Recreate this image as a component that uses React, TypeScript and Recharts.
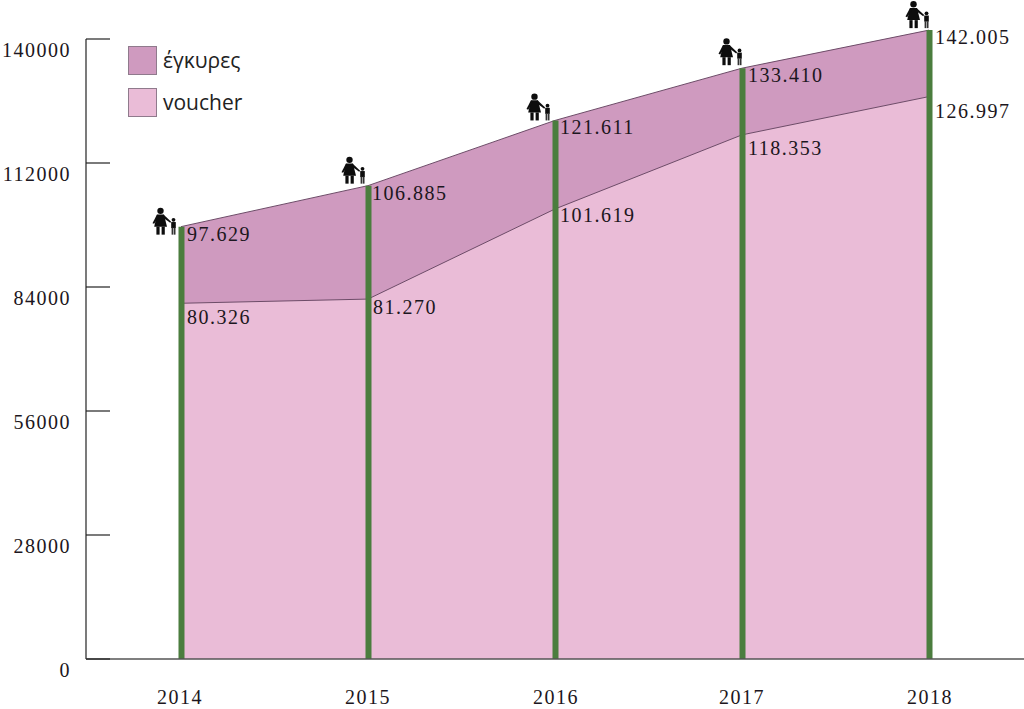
import React from 'react';
import { ComposedChart, Area, Bar, Line, XAxis, YAxis, ReferenceLine, Legend } from 'recharts';

const years = [2014, 2015, 2016, 2017, 2018];
const egkyres = [97629, 106885, 121611, 133410, 142005];
const voucher = [80326, 81270, 101619, 118353, 126997];
const yTicks = [0, 28000, 56000, 84000, 112000, 140000];

const data = years.map((year, i) => ({ year, egkyres: egkyres[i], voucher: voucher[i] }));

const DARK = '#cf9abf';
const LIGHT = '#eabcd7';
const GREEN = '#4b7d3e';
const INK = '#1c1620';
const SERIF = '"Liberation Serif", serif';
const SANS = '"Open Sans", "Noto Sans", sans-serif';
const X_MIN = 2013.492;
const X_MAX = 2018.508;

const upperLabelOffset = [
  [6, 8], [4, 8], [5, 8], [6, 8], [6, 8],
];
const lowerLabelOffset = [
  [6, 15], [5, 9], [5, 7], [6, 14], [6, 15],
];
const iconOffset = [
  [-28, -19], [-26, -29], [-28, -27], [-23, -30], [-23, -29],
];
const xLabelShift = [-1, 0, 1, 0, 1];

const fmt = (v: number) => {
  const s = String(v);
  return s.slice(0, -3) + '.' + s.slice(-3);
};

const textStyle: React.CSSProperties = {
  fontFamily: SERIF,
  fontSize: 20,
  letterSpacing: 1.5,
  fontVariantNumeric: 'oldstyle-nums',
};

const ValueLabel = (offsets: number[][]) => (p: any) => {
  const o = offsets[p.index];
  return (
    <text key={p.index} x={p.x + o[0]} y={p.y + o[1]} dy={6} fill={INK} style={textStyle}>
      {fmt(p.value)}
    </text>
  );
};

const Figure = (p: any) => {
  const o = iconOffset[p.index];
  return (
    <g key={p.index} transform={`translate(${p.cx + o[0]},${p.cy + o[1]})`} fill="#0d0d0d" stroke="none">
      <circle cx={7.5} cy={3.2} r={3.2} />
      <path d="M4 6.8 H11 L14 19 H1.2 Z" />
      <rect x={3.4} y={19} width={3.2} height={8} />
      <rect x={8.6} y={19} width={3.2} height={8} />
      <path d="M4 6.8 L-0.5 15.5 L1.2 16.2 L6 9 Z" />
      <path d="M10.5 6.8 L18.2 14 L17.2 15.2 L9.5 9.5 Z" />
      <circle cx={20.5} cy={12.2} r={1.9} />
      <rect x={18.2} y={14.4} width={4.6} height={6} />
      <rect x={18.6} y={20} width={1.7} height={7} fill="#333" />
      <rect x={20.8} y={20} width={1.7} height={7} fill="#333" />
    </g>
  );
};

const YTick = (p: any) => (
  <g>
    <line x1={p.x + 8} x2={p.x + 32} y1={p.y} y2={p.y} stroke="#222" strokeWidth={1.2} />
    <text x={p.x - 7} y={p.y + 18} textAnchor="end" fill={INK} style={textStyle}>
      {p.payload.value}
    </text>
  </g>
);

const XTick = (p: any) => (
  <text x={p.x + xLabelShift[p.index]} y={p.y + 37} textAnchor="middle" fill={INK} style={textStyle}>
    {p.payload.value}
  </text>
);

const legendItems = [
  { name: 'έγκυρες', color: DARK },
  { name: 'voucher', color: LIGHT },
];

const LegendBox = () => (
  <div>
    {legendItems.map((it) => (
      <div key={it.name} style={{ display: 'flex', alignItems: 'center', height: 29, marginBottom: 13 }}>
        <div style={{ width: 29, height: 29, boxSizing: 'border-box', background: it.color, border: '1px solid #8f7a8c' }} />
        <span style={{ marginLeft: 6, fontFamily: SANS, fontSize: 21, color: '#222', lineHeight: '29px', position: 'relative', top: 0 }}>
          {it.name}
        </span>
      </div>
    ))}
  </div>
);

export default function App() {
  return (
    <div style={{ position: 'absolute', left: 0, top: 0 }}>
      <ComposedChart
        width={1024}
        height={709}
        data={data}
        margin={{ top: 8, right: 0, bottom: 0, left: 0 }}
      >
        <XAxis
          dataKey="year"
          type="number"
          domain={[X_MIN, X_MAX]}
          ticks={years}
          allowDataOverflow
          height={50}
          tickLine={false}
          axisLine={{ stroke: '#555', strokeWidth: 1.5 }}
          tick={XTick}
          interval={0}
        />
        <YAxis
          type="number"
          domain={[0, 147000]}
          ticks={yTicks}
          width={86}
          axisLine={false}
          tickLine={false}
          tick={YTick}
          interval={0}
        />
        <Area dataKey="egkyres" name="έγκυρες" type="linear" fill={DARK} fillOpacity={1} stroke="#6d4c68" strokeWidth={1} isAnimationActive={false} dot={false} />
        <Area dataKey="voucher" name="voucher" type="linear" fill={LIGHT} fillOpacity={1} stroke="#6d4c68" strokeWidth={1} isAnimationActive={false} dot={false} />
        <Bar dataKey="egkyres" barSize={6} fill={GREEN} isAnimationActive={false} legendType="none" />
        <Line dataKey="egkyres" stroke="none" isAnimationActive={false} legendType="none" dot={Figure} activeDot={false} label={ValueLabel(upperLabelOffset)} />
        <Line dataKey="voucher" stroke="none" isAnimationActive={false} legendType="none" dot={false} activeDot={false} label={ValueLabel(lowerLabelOffset)} />
        <ReferenceLine
          segment={[{ x: X_MIN, y: 0 }, { x: X_MIN, y: 140000 }]}
          stroke="#222"
          strokeWidth={1.2}
          ifOverflow="visible"
        />
        <Legend
          layout="vertical"
          align="center"
          verticalAlign="middle"
          content={LegendBox}
          wrapperStyle={{ position: 'absolute', left: 128, top: 46, width: 160, bottom: 'auto' }}
        />
      </ComposedChart>
    </div>
  );
}
